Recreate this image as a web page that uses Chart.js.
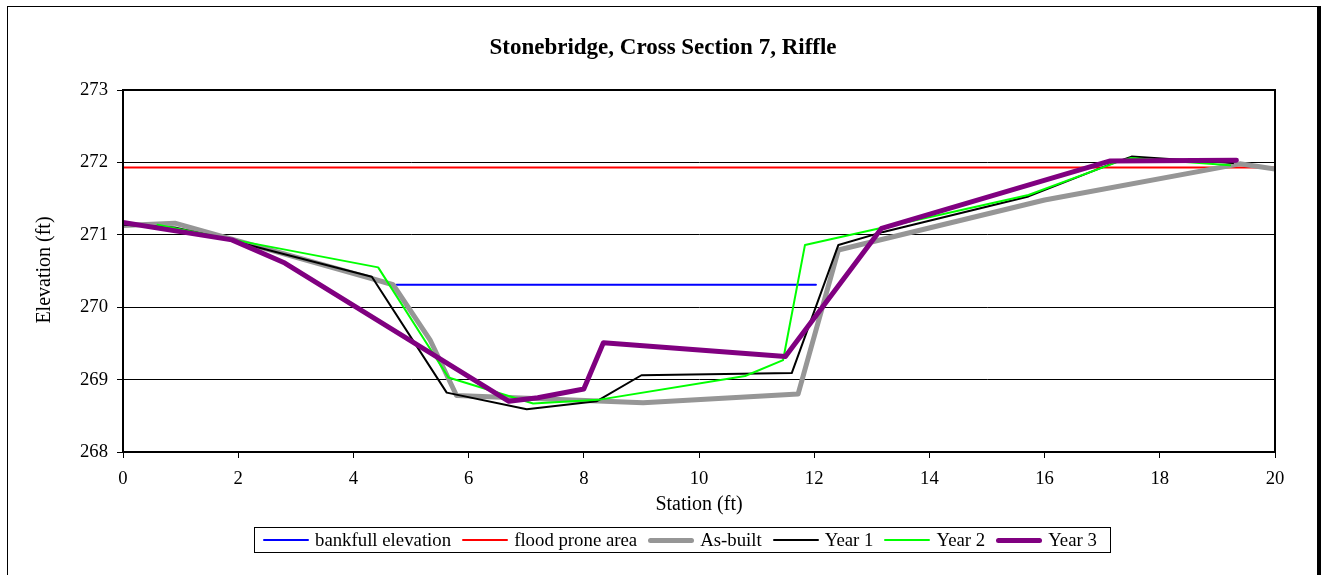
<!DOCTYPE html>
<html>
<head>
<meta charset="utf-8">
<title>Stonebridge, Cross Section 7, Riffle</title>
<script src="https://cdn.jsdelivr.net/npm/chart.js@4.4.1/dist/chart.umd.min.js"></script>
<style>
  html, body { margin: 0; padding: 0; background: #fff; }
  #wrap { position: relative; width: 1325px; height: 575px; overflow: hidden;
          font-family: "Liberation Serif", "Times New Roman", serif; color: #000; }
  #frame { position: absolute; left: 7px; top: 6px; width: 1314px; height: 620px;
           border: 1.5px solid #000; border-right-width: 4px; box-sizing: border-box; }
  canvas { position: absolute; left: 0; top: 0; }
  #title { position: absolute; left: 8px; width: 1310px; top: 33px; text-align: center;
           font-weight: bold; font-size: 23px; line-height: 28px; white-space: nowrap; }
  #ytitle { position: absolute; left: -107px; top: 258px; width: 300px; height: 24px; line-height: 24px;
            text-align: center; font-size: 20px; transform: rotate(-90deg); white-space: nowrap; }
  #xtitle { position: absolute; left: 549px; width: 300px; top: 491px; text-align: center;
            font-size: 20px; line-height: 24px; white-space: nowrap; }
  #legend { position: absolute; left: 254px; top: 527px; height: 26px; box-sizing: border-box;
            border: 1px solid #000; display: flex; align-items: center; padding: 0 13px 0 8px;
            font-size: 18.8px; white-space: nowrap; }
  .item { display: flex; align-items: center; margin-right: 11px; }
  .item:last-child { margin-right: 0; }
  .swatch { width: 46px; margin-right: 6px; }
</style>
</head>
<body>
<div id="wrap">
  <div id="frame"></div>
  <canvas id="chart" width="1325" height="575"></canvas>
  <div id="title">Stonebridge, Cross Section 7, Riffle</div>
  <div id="ytitle">Elevation (ft)</div>
  <div id="xtitle">Station (ft)</div>
  <div id="legend"></div>
</div>
<script>
// Survey data: station (ft) and elevation (ft) for each line
const bankfullStation = [4.75, 12.03];
const bankfullElev    = [270.31, 270.31];

const floodStation = [0, 20];
const floodElev    = [271.93, 271.93];

const asBuiltStation = [0, 0.9, 4.3, 4.69, 5.33, 5.79, 9.03, 11.72, 12.42, 16.0, 19.39, 20];
const asBuiltElev    = [271.13, 271.16, 270.40, 270.31, 269.55, 268.78, 268.68, 268.80, 270.79, 271.48, 271.98, 271.91];

const year1Station = [0, 0.9, 1.88, 4.32, 5.62, 7.01, 8.22, 9.0, 11.61, 12.42, 13.2, 15.72, 17.19, 17.51, 19.27];
const year1Elev    = [271.14, 271.10, 270.92, 270.42, 268.82, 268.59, 268.70, 269.06, 269.09, 270.86, 271.04, 271.53, 271.99, 272.08, 271.99];

const year2Station = [0.6, 1.86, 4.43, 5.65, 7.12, 8.25, 10.8, 11.46, 11.84, 13.14, 15.72, 17.28, 17.5, 19.22];
const year2Elev    = [271.14, 270.94, 270.55, 269.03, 268.67, 268.72, 269.05, 269.27, 270.86, 271.09, 271.55, 272.01, 272.06, 271.96];

const year3Station = [0, 1.89, 2.81, 6.7, 7.2, 8.0, 8.34, 11.5, 13.17, 17.14, 19.33];
const year3Elev    = [271.17, 270.93, 270.61, 268.70, 268.75, 268.87, 269.51, 269.32, 271.09, 272.02, 272.03];

const seriesNames = ["bankfull elevation", "flood prone area", "As-built", "Year 1", "Year 2", "Year 3"];
const xTicks = [0, 2, 4, 6, 8, 10, 12, 14, 16, 18, 20];
const yTicks = [268, 269, 270, 271, 272, 273];

// Line styling, kept apart from the values
const styles = [
  { color: "#0000ff", width: 2 },
  { color: "#ff0000", width: 2 },
  { color: "#969696", width: 5 },
  { color: "#000000", width: 2 },
  { color: "#00ff00", width: 2 },
  { color: "#800080", width: 5 }
];

const seriesData = [
  [bankfullStation, bankfullElev],
  [floodStation, floodElev],
  [asBuiltStation, asBuiltElev],
  [year1Station, year1Elev],
  [year2Station, year2Elev],
  [year3Station, year3Elev]
];

const FONT = "'Liberation Serif', 'Times New Roman', serif";

const datasets = seriesData.map(([xs, ys], i) => ({
  label: seriesNames[i],
  data: xs.map((x, k) => ({ x: x, y: ys[k] })),
  borderColor: styles[i].color,
  backgroundColor: styles[i].color,
  borderWidth: styles[i].width,
  borderCapStyle: "round",
  borderJoinStyle: "round",
  pointRadius: 0,
  tension: 0,
  fill: false,
  // later series are painted on top
  order: seriesNames.length - i
}));

// Black box around the plotting area
const plotFrame = {
  id: "plotFrame",
  afterDraw(chart) {
    const a = chart.chartArea, c = chart.ctx;
    c.save();
    c.strokeStyle = "#000";
    c.lineWidth = 2;
    c.strokeRect(a.left, a.top, a.right - a.left, a.bottom - a.top);
    c.restore();
  }
};

new Chart(document.getElementById("chart"), {
  type: "line",
  data: { datasets },
  options: {
    responsive: false,
    animation: false,
    devicePixelRatio: 1,
    layout: { padding: { left: 0, right: 50, top: 90, bottom: 0 } },
    plugins: { legend: { display: false }, title: { display: false }, tooltip: { enabled: false } },
    scales: {
      x: {
        type: "linear", min: 0, max: 20,
        afterBuildTicks(s) { s.ticks = xTicks.map(v => ({ value: v })); },
        afterFit(s) { s.height = 123; },
        ticks: { color: "#000", padding: 10, maxRotation: 0, autoSkip: false,
                 font: { family: FONT, size: 18.7 } },
        grid: { drawOnChartArea: false, drawTicks: true, tickLength: 6, color: "#000", lineWidth: 1 },
        border: { color: "#000", width: 2 }
      },
      y: {
        type: "linear", min: 268, max: 273,
        afterBuildTicks(s) { s.ticks = yTicks.map(v => ({ value: v })); },
        afterFit(s) { s.width = 123; },
        ticks: { color: "#000", padding: 9, font: { family: FONT, size: 18.7 } },
        grid: { color: "#000", lineWidth: 1, tickLength: 6 },
        border: { color: "#000", width: 2 }
      }
    }
  },
  plugins: [plotFrame]
});

// Legend built from the series names and styles
const legend = document.getElementById("legend");
seriesNames.forEach((name, i) => {
  const item = document.createElement("div");
  item.className = "item";
  const sw = document.createElement("div");
  sw.className = "swatch";
  sw.style.height = styles[i].width + "px";
  sw.style.background = styles[i].color;
  sw.style.borderRadius = (styles[i].width / 2) + "px";
  const txt = document.createElement("span");
  txt.textContent = name;
  item.appendChild(sw);
  item.appendChild(txt);
  legend.appendChild(item);
});
</script>
</body>
</html>
